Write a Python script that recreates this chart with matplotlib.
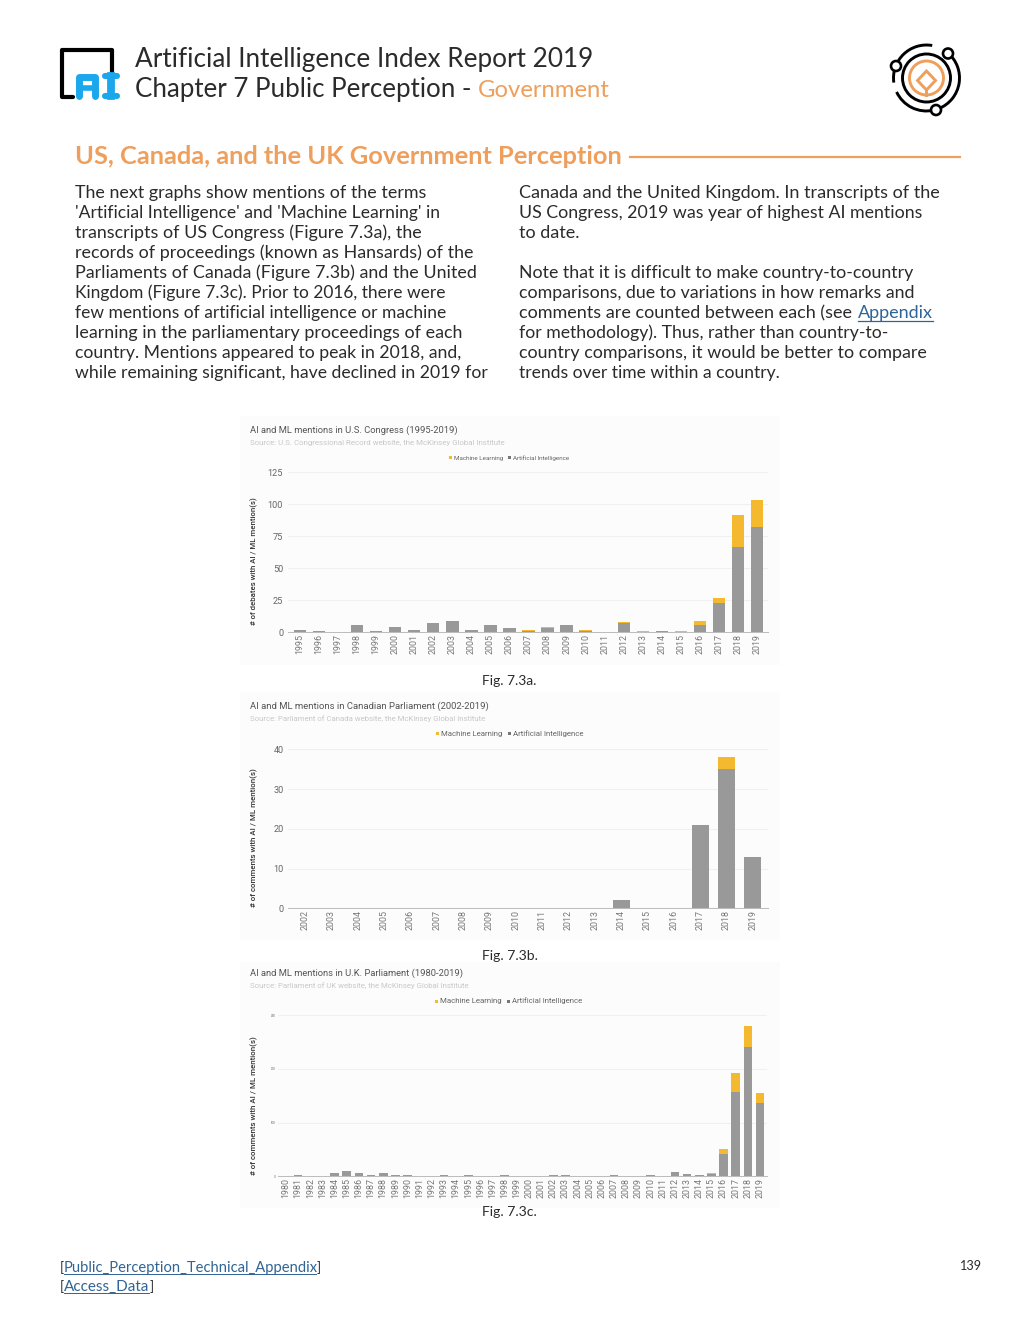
import matplotlib
matplotlib.use("Agg")
import matplotlib.pyplot as plt
from matplotlib.patches import Circle, Rectangle, Arc, Polygon

# chart data
us_years = list(range(1995, 2020))
us_ai = [2, 1, 0, 6, 1, 4, 2, 7, 9, 2, 6, 3, 1, 3, 6, 1, 0, 7, 0, 1, 0, 6, 23, 67, 82]
us_ml = [0, 0, 0, 0, 0, 0, 0, 0, 0, 0, 0, 0, 1, 1, 0, 1, 0, 1, 1, 0, 1, 3, 4, 25, 21]

ca_years = list(range(2002, 2020))
ca_ai = [0, 0, 0, 0, 0, 0, 0, 0, 0, 0, 0, 0, 2, 0, 0, 21, 35, 13]
ca_ml = [0, 0, 0, 0, 0, 0, 0, 0, 0, 0, 0, 0, 0, 0, 0, 0, 3, 0]

uk_years = list(range(1980, 2020))
uk_ai = [0, 2, 0, 0, 6, 10, 7, 3, 6, 2, 2, 0, 0, 2, 0, 3, 0, 0, 2, 0, 0, 0, 2, 2, 0, 0, 0, 2, 0, 0, 2, 0,
         8, 4, 2, 4, 42, 157, 241, 137]
uk_ml = [0, 0, 0, 0, 0, 0, 0, 0, 0, 0, 0, 0, 0, 0, 0, 0, 0, 0, 0, 0, 0, 0, 0, 0, 0, 0, 0, 0, 0, 0, 0, 0,
         0, 0, 0, 2, 9, 35, 39, 19]

left_lines = ["The next graphs show mentions of the terms",
              "'Artificial Intelligence' and 'Machine Learning' in",
              "transcripts of US Congress (Figure 7.3a), the",
              "records of proceedings (known as Hansards) of the",
              "Parliaments of Canada (Figure 7.3b) and the United",
              "Kingdom (Figure 7.3c). Prior to 2016, there were",
              "few mentions of artificial intelligence or machine",
              "learning in the parliamentary proceedings of each",
              "country. Mentions appeared to peak in 2018, and,",
              "while remaining significant, have declined in 2019 for"]
right_lines = ["Canada and the United Kingdom. In transcripts of the",
               "US Congress, 2019 was year of highest AI mentions",
               "to date.",
               "",
               "Note that it is difficult to make country-to-country",
               "comparisons, due to variations in how remarks and",
               "comments are counted between each (see ",
               "for methodology). Thus, rather than country-to-",
               "country comparisons, it would be better to compare",
               "trends over time within a country."]

ORANGE = "#ef9f5c"
LINK = "#2f6496"
YELLOW = "#f4b92f"
GREY = "#999999"
INK = "#2b2b2b"
W, H = 1020, 1320

plt.rcParams['font.family'] = ['Lato', 'DejaVu Sans']
fig = plt.figure(figsize=(W / 100, H / 100), dpi=100, facecolor="white")

# page layer in pixel coordinates
page = fig.add_axes([0, 0, 1, 1])
page.set_xlim(0, W)
page.set_ylim(H, 0)
page.axis("off")


def fit_text(x, y, s, width, **kw):
    # scale the font so the string spans the same width as the reference
    t = page.text(x, y, s, va="baseline", **kw)
    r = fig.canvas.get_renderer()
    t.set_fontsize(t.get_fontsize() * width / t.get_window_extent(r).width)
    return t


# AI logo
page.plot([112, 112, 62, 62, 73], [72, 49.5, 49.5, 97, 97], color="black", lw=3,
          solid_capstyle="round", solid_joinstyle="round")
blue = "#1aa7ec"
page.plot([79.5, 79.5, 95.5, 95.5], [96, 76.5, 76.5, 96], color=blue, lw=5, solid_joinstyle="round", solid_capstyle="round")
page.plot([79.5, 95.5], [87.5, 87.5], color=blue, lw=4)
page.plot([105, 117], [76, 76], color=blue, lw=4.4, solid_capstyle="round")
page.plot([105, 117], [96, 96], color=blue, lw=4.4, solid_capstyle="round")
page.plot([111, 111], [76, 96], color=blue, lw=5.6)

# orbit logo
cx, cy = 926.5, 78
page.add_patch(Arc((cx, cy), 66, 66, theta1=-50, theta2=68, color="black", lw=2.1))
page.add_patch(Arc((cx, cy), 66, 66, theta1=78, theta2=155, color="black", lw=2.1))
page.add_patch(Arc((cx, cy), 66, 66, theta1=172, theta2=280, color="black", lw=2.1))
page.add_patch(Circle((cx, cy), 24, fill=False, ec="black", lw=2.1))
page.add_patch(Circle((cx, cy), 17, fill=False, ec=ORANGE, lw=2.1))
page.add_patch(Polygon([(926.5, 71), (935.5, 80.5), (926.5, 90), (917.5, 80.5)], fill=False, ec=ORANGE, lw=2.1))
page.plot([926.5, 926.5], [90, 95], color=ORANGE, lw=2.1)
for px, py in [(948, 53.5), (896, 66), (936, 110)]:
    page.add_patch(Circle((px, py), 5, fc="white", ec="black", lw=1.9, zorder=5))

# headers
fit_text(135, 67, "Artificial Intelligence Index Report 2019", 458, fontsize=24, color=INK)
fit_text(135, 97, "Chapter 7 Public Perception - ", 343, fontsize=24, color=INK)
fit_text(478, 97, "Government", 132, fontsize=24, color=ORANGE)
fit_text(75, 164, "US, Canada, and the UK Government Perception", 547, fontsize=23, color=ORANGE, weight="bold")
page.plot([630, 960], [156.5, 156.5], color=ORANGE, lw=1.6)

# body text
left_widths = [351, 364, 347, 400, 401, 372, 371, 388, 387, 412]
right_widths = [421, 404, 61, 0, 395, 396, 339, 371, 408, 262]
for i, (s, w) in enumerate(zip(left_lines, left_widths)):
    fit_text(75, 198 + 20 * i, s, w, fontsize=15, color=INK)
for i, (s, w) in enumerate(zip(right_lines, right_widths)):
    if s:
        fit_text(519.5, 198 + 20 * i, s, w, fontsize=15, color=INK)
fit_text(858, 318, "Appendix", 75, fontsize=15, color=LINK)
page.plot([858, 933], [321, 321], color=LINK, lw=0.9)

# captions and footer
fit_text(482, 685, "Fig. 7.3a.", 55, fontsize=11, color=INK)
fit_text(482, 960, "Fig. 7.3b.", 56, fontsize=11, color=INK)
fit_text(482, 1216, "Fig. 7.3c.", 55, fontsize=11, color=INK)
fit_text(60, 1272, "[", 4, fontsize=11, color=INK)
fit_text(64, 1272, "Public_Perception_Technical_Appendix", 252, fontsize=11, color=LINK)
fit_text(317, 1272, "]", 4, fontsize=11, color=INK)
fit_text(60, 1291, "[", 4, fontsize=11, color=INK)
fit_text(64, 1291, "Access_Data", 85, fontsize=11, color=LINK)
fit_text(150, 1291, "]", 4, fontsize=11, color=INK)
page.plot([64, 316], [1274, 1274], color=LINK, lw=0.7)
page.plot([64, 149], [1293, 1293], color=LINK, lw=0.7)
fit_text(960, 1270, "139", 22, fontsize=11, color=INK)

# faint chart backgrounds
for top, bottom in [(416, 665), (692, 940), (962, 1208)]:
    page.add_patch(Rectangle((240, top), 540, bottom - top, fc="#fcfcfc", ec="none", zorder=0))


def draw_chart(years, ai, ml, box, centres, bar_px, yticks, title, source, ylabel,
               title_y, leg_x, ylabel_pos, tick_fs, title_w, source_w, leg_fs, ypad):
    left, top, right, bottom = box
    ax = fig.add_axes([left / W, 1 - bottom / H, (right - left) / W, (bottom - top) / H])
    ax.patch.set_alpha(0)
    step = (centres[1] - centres[0]) / (len(years) - 1)
    x = list(range(len(years)))
    ax.bar(x, ai, width=bar_px / step, color=GREY, zorder=3, label="Artificial Intelligence")
    ax.bar(x, ml, bottom=ai, width=bar_px / step, color=YELLOW, zorder=3, label="Machine Learning")
    ax.set_xlim((left - centres[0]) / step, (right - centres[0]) / step)
    ax.set_ylim(0, yticks[-1])
    ax.set_yticks(yticks)
    ax.set_xticks(x)
    ax.set_xticklabels(years, rotation=90, fontsize=6.4, color="#777777", family="Roboto")
    ax.tick_params(axis="both", length=0)
    ax.tick_params(axis="x", pad=1.5)
    ax.tick_params(axis="y", labelsize=tick_fs, labelcolor="#666666", pad=ypad)
    for label in ax.get_yticklabels():
        label.set_family("Roboto")
    ax.grid(axis="y", color="#f0f0f0", lw=0.8, zorder=0)
    ax.set_axisbelow(True)
    for name in ["top", "right", "left"]:
        ax.spines[name].set_visible(False)
    ax.spines["bottom"].set_color("#bbbbbb")
    ax.spines["bottom"].set_linewidth(0.7)

    fit_text(250.5, title_y, title, title_w, fontsize=7, color="#555555", family="Roboto")
    fit_text(250.5, title_y + 12, source, source_w, fontsize=6, color="#c8c8c8", family="Roboto")
    page.text(ylabel_pos[0], ylabel_pos[1], ylabel, rotation=90, ha="center", va="center",
              fontsize=ylabel_pos[2], color="#333333", family="Roboto", weight="medium")
    ly = title_y + 25
    page.add_patch(Rectangle((leg_x[0], ly - 1.5), 3, 3, fc=YELLOW, ec="none"))
    fit_text(leg_x[0] + 5, ly + 2.2, "Machine Learning", leg_x[1], fontsize=leg_fs, color="#666666", family="Roboto")
    page.add_patch(Rectangle((leg_x[2], ly - 1.5), 3, 3, fc="#777777", ec="none"))
    fit_text(leg_x[2] + 5, ly + 2.2, "Artificial Intelligence", leg_x[3], fontsize=leg_fs, color="#666666", family="Roboto")
    return ax


draw_chart(us_years, us_ai, us_ml, (288, 472.3, 768, 632.3), (300, 757), 12.4, [0, 25, 50, 75, 100, 125],
           "AI and ML mentions in U.S. Congress (1995-2019)",
           "Source: U.S. Congressional Record website, the McKinsey Global Institute",
           "# of debates with AI / ML mention(s)",
           432.5, (449, 50, 508, 57), (254, 561.5, 5.6), 6.6, 209, 257, 5, 3.5)
draw_chart(ca_years, ca_ai, ca_ml, (288, 749.3, 768, 908.3), (305, 752.7), 17, [0, 10, 20, 30, 40],
           "AI and ML mentions in Canadian Parliament (2002-2019)",
           "Source: Parliament of Canada website, the McKinsey Global Institute",
           "# of comments with AI / ML mention(s)",
           708.5, (436, 62, 508, 72), (254, 838, 5.7), 6.6, 238, 239, 6, 3)
draw_chart(uk_years, uk_ai, uk_ml, (278, 1015.3, 767, 1176.3), (286, 760), 8.6, [0, 100, 200, 300],
           "AI and ML mentions in U.K. Parliament (1980-2019)",
           "Source: Parliament of UK website, the McKinsey Global Institute",
           "# of comments with AI / ML mention(s)",
           976, (435, 63, 507, 71), (254, 1105.5, 5.65), 2.2, 213, 221, 6, 1.5)

fig.savefig("out.png", dpi=100)
